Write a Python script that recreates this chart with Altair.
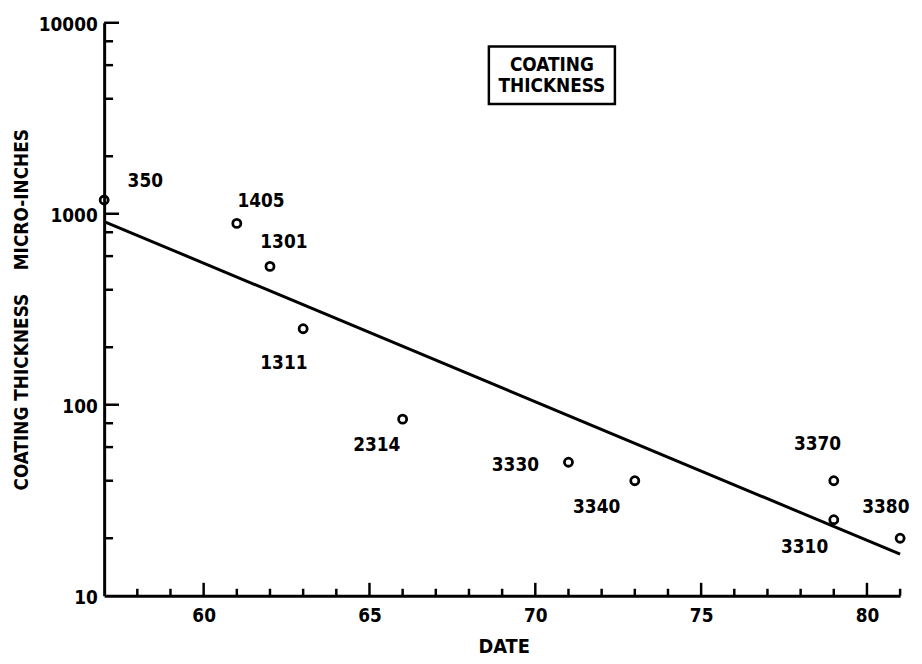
import altair as alt
import pandas as pd

# ---- data ----
dates = [57, 61, 62, 63, 66, 71, 73, 79, 79, 81]
thickness = [1180, 890, 530, 250, 84, 50, 40, 40, 25, 20]
ids = ["350", "1405", "1301", "1311", "2314", "3330", "3340", "3370", "3310", "3380"]
label_dates = [58.24, 61.73, 62.42, 62.42, 65.22, 69.40, 71.85, 78.51, 78.12, 80.57]
label_thick = [1483, 1168, 708, 165, 61.3, 48.3, 29.2, 62.1, 17.9, 29.2]
fit_dates = [57, 81]
fit_thick = [910, 16.5]

x_major = [60, 65, 70, 75, 80]
x_minor = [58, 59, 61, 62, 63, 64, 66, 67, 68, 69, 71, 72, 73, 74, 76, 77, 78, 79, 81]
y_labels = [10, 100, 1000, 10000]
y_major = [100, 1000, 10000]
y_minor = [20, 40, 60, 80, 200, 400, 600, 800, 2000, 4000, 6000, 8000]

box_dates = [68.6, 72.4]
box_thick = [7514, 3758]
box_text_date = 70.5
box_text_thick = 6026
box_title = ["COATING", "THICKNESS"]

W, H = 803, 578
FONT = "DejaVu Sans Condensed, DejaVu Sans, sans-serif"

xscale = alt.Scale(domain=[57, 81], nice=False, zero=False)
yscale = alt.Scale(type="log", domain=[10, 10000], nice=False)

xaxis = alt.Axis(values=x_major, ticks=False, tickSize=0, grid=False, domain=True,
                 domainWidth=3, domainColor="black", labelFont=FONT, labelFontSize=19,
                 labelFontWeight="bold", labelColor="black", labelPadding=11,
                 title="DATE", titleFont=FONT, titleFontSize=20, titleFontWeight="bold",
                 titleColor="black", titleX=403, titleY=51, titleBaseline="middle",
                 titleAlign="center")
yaxis = alt.Axis(values=y_labels, format="d", ticks=False, tickSize=0, grid=False, domain=True,
                 domainWidth=3, domainColor="black", labelFont=FONT, labelFontSize=19,
                 labelFontWeight="bold", labelColor="black", labelPadding=7, labelOffset=2,
                 title="COATING THICKNESS\u00a0\u00a0\u00a0 MICRO-INCHES",
                 titleFont=FONT, titleFontSize=19, titleFontWeight="bold", titleColor="black",
                 titleAngle=-90, titleX=-83, titleY=289, titleBaseline="middle",
                 titleAlign="center")


def X(field):
    return alt.X(field, type="quantitative", scale=xscale, axis=xaxis)


def Y(field):
    return alt.Y(field, type="quantitative", scale=yscale, axis=yaxis)


pts = pd.DataFrame({"date": dates, "thick": thickness})
labels = pd.DataFrame({"date": label_dates, "thick": label_thick, "id": ids})
fit = pd.DataFrame({"date": fit_dates, "thick": fit_thick})

points = alt.Chart(pts).mark_point(shape="circle", filled=False, size=66, strokeWidth=2.8,
                                   color="black", opacity=1).encode(x=X("date"), y=Y("thick"))
texts = alt.Chart(labels).mark_text(font=FONT, fontSize=19, fontWeight="bold", color="black",
                                    align="center", baseline="middle").encode(
    x=X("date"), y=Y("thick"), text="id:N")
line = alt.Chart(fit).mark_line(color="black", strokeWidth=3).encode(x=X("date"), y=Y("thick"))

ytick_major = alt.Chart(pd.DataFrame({"v": y_major})).mark_rule(color="black", strokeWidth=2.5).encode(
    y=Y("v"), x=alt.value(0), x2=alt.value(15))
ytick_minor = alt.Chart(pd.DataFrame({"v": y_minor})).mark_rule(color="black", strokeWidth=2.5).encode(
    y=Y("v"), x=alt.value(0), x2=alt.value(9))
xtick_major = alt.Chart(pd.DataFrame({"v": x_major})).mark_rule(color="black", strokeWidth=2.5).encode(
    x=X("v"), y=alt.value(H), y2=alt.value(H - 13))
xtick_minor = alt.Chart(pd.DataFrame({"v": x_minor})).mark_rule(color="black", strokeWidth=2.5).encode(
    x=X("v"), y=alt.value(H), y2=alt.value(H - 7))

box = alt.Chart(pd.DataFrame({"x1": [box_dates[0]], "x2": [box_dates[1]],
                              "y1": [box_thick[0]], "y2": [box_thick[1]]})).mark_rect(
    fill="white", stroke="black", strokeWidth=2.5).encode(
    x=X("x1"), x2="x2:Q", y=Y("y1"), y2="y2:Q")
box_txt = alt.Chart(pd.DataFrame({"date": [box_text_date], "thick": [box_text_thick],
                                  "t": ["\n".join(box_title)]})).mark_text(
    font=FONT, fontSize=19, fontWeight="bold", color="black", align="center",
    baseline="middle", lineBreak="\n", lineHeight=21).encode(
    x=X("date"), y=Y("thick"), text="t:N")

chart = alt.layer(line, points, texts, ytick_major, ytick_minor, xtick_major, xtick_minor,
                  box, box_txt).properties(
    width=W, height=H,
    autosize=alt.AutoSizeParams(type="none"),
    padding={"left": 97, "top": 12, "right": 14, "bottom": 66},
    background="white",
).configure_view(stroke=None)

chart.save("out.html", embed_options={"renderer": "svg", "actions": False})
